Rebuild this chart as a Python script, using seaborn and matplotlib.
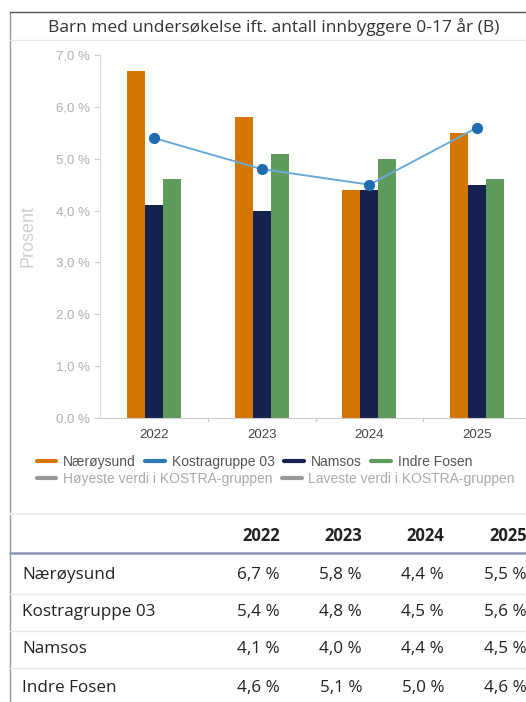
import seaborn as sns
import matplotlib.pyplot as plt
import pandas as pd
from matplotlib.lines import Line2D

years = ['2022', '2023', '2024', '2025']
naeroysund = [6.7, 5.8, 4.4, 5.5]
kostragruppe = [5.4, 4.8, 4.5, 5.6]
namsos = [4.1, 4.0, 4.4, 4.5]
indre_fosen = [4.6, 5.1, 5.0, 4.6]
bar_series = ['Nærøysund', 'Namsos', 'Indre Fosen']
yticks = [0, 1, 2, 3, 4, 5, 6, 7]

colors = {'Nærøysund': '#d47500', 'Kostragruppe 03': '#2a7ab8',
          'Namsos': '#15224f', 'Indre Fosen': '#5e9a5a'}

rows = []
for name, vals in zip(bar_series, [naeroysund, namsos, indre_fosen]):
    for y, v in zip(years, vals):
        rows.append({'year': y, 'verdi': v, 'serie': name})
df = pd.DataFrame(rows)
df_line = pd.DataFrame({'year': years, 'verdi': kostragruppe})

sns.set_style("white")
plt.rcParams['font.family'] = ['Liberation Sans', 'DejaVu Sans']

W, H = 526, 702
fig = plt.figure(figsize=(W / 100, H / 100), dpi=100)
ax = fig.add_axes([100 / W, (H - 418) / H, 431 / W, 363 / H])

sns.barplot(data=df, x='year', y='verdi', hue='serie', hue_order=bar_series,
            palette=[colors[s] for s in bar_series], width=0.5, gap=0,
            saturation=1, ax=ax, legend=False, linewidth=0)
sns.pointplot(data=df_line, x='year', y='verdi', color='#6aaad6',
              linewidth=1.4, markers='o', markersize=7, ax=ax,
              markerfacecolor='#1f6db0', markeredgecolor='#1f6db0')

ax.set_ylim(0, 7)
ax.set_xlim(-0.5, 3.5)
ax.set_yticks(yticks)
ax.set_yticklabels([f'{t},0 %' for t in yticks], color='#b0b0b0', fontsize=9.5)
ax.tick_params(axis='y', length=4, color='#cccccc', left=True, pad=3)
ax.tick_params(axis='x', length=0, colors='#444444', labelsize=9.5, pad=8)
for xb in [0.5, 1.5, 2.5]:
    ax.plot([xb, xb], [0, -0.06], color='#cccccc', lw=1, clip_on=False)
ax.set_xlabel('')
ax.set_ylabel('')
for s in ['top', 'right']:
    ax.spines[s].set_visible(False)
ax.spines['left'].set_color('#dddddd')
ax.spines['bottom'].set_color('#cccccc')
fig.text(28 / W, 1 - 236 / H, 'Prosent', rotation=90, color='#d0d0d0',
         fontsize=13, ha='center', va='center')

# frame and title
fig.add_artist(Line2D([10 / W, 10 / W], [0, 1 - 12 / H], color='#999999', lw=1))
fig.add_artist(Line2D([10 / W, 1], [1 - 12 / H, 1 - 12 / H], color='#555555', lw=1))
fig.add_artist(Line2D([10 / W, 1], [1 - 40 / H, 1 - 40 / H], color='#e6e6e6', lw=1))
fig.text(274 / W, 1 - 27 / H, 'Barn med undersøkelse ift. antall innbyggere 0-17 år (B)',
         ha='center', va='center', fontsize=12.5, color='#333333', family='Open Sans')

# legend
h1 = [Line2D([], [], color=colors[n], lw=3) for n in colors]
leg1 = fig.legend(h1, list(colors), loc='center left', ncol=4, frameon=False,
                  bbox_to_anchor=(24 / W, 1 - 462 / H), fontsize=10,
                  handlelength=1.4, handletextpad=0.5, columnspacing=0.7)
for t in leg1.get_texts():
    t.set_color('#555555')
gray_names = ['Høyeste verdi i KOSTRA-gruppen', 'Laveste verdi i KOSTRA-gruppen']
h2 = [Line2D([], [], color='#999999', lw=3) for _ in gray_names]
leg2 = fig.legend(h2, gray_names, loc='center left', ncol=2, frameon=False,
                  bbox_to_anchor=(24 / W, 1 - 479 / H), fontsize=10,
                  handlelength=1.4, handletextpad=0.5, columnspacing=0.7)
for t in leg2.get_texts():
    t.set_color('#aaaaaa')

# table
fig.add_artist(Line2D([10 / W, 1], [1 - 514 / H, 1 - 514 / H], color='#eeeeee', lw=1.5))
col_right = [280, 362, 444, 527]
for x, y in zip(col_right, years):
    fig.text(x / W, 1 - 536 / H, y, ha='right', va='center', fontsize=12,
             fontweight='bold', color='#222222', family='Open Sans')
fig.add_artist(Line2D([10 / W, 1], [1 - 553 / H, 1 - 553 / H], color='#8a96b8', lw=1.8))
table_rows = [('Nærøysund', naeroysund), ('Kostragruppe 03', kostragruppe),
              ('Namsos', namsos), ('Indre Fosen', indre_fosen)]
row_y = [575, 612, 649, 688]
for (name, vals), ry in zip(table_rows, row_y):
    fig.text(22 / W, 1 - ry / H, name, ha='left', va='center', fontsize=12.3,
             color='#222222', family='Open Sans')
    for x, v in zip(col_right, vals):
        fig.text(x / W, 1 - ry / H, f'{v:.1f} %'.replace('.', ','), ha='right',
                 va='center', fontsize=12.3, color='#222222', family='Open Sans')
for ly in [594, 631, 668]:
    fig.add_artist(Line2D([10 / W, 1], [1 - ly / H, 1 - ly / H], color='#e8e8e8', lw=1))

fig.savefig('out.png', dpi=100)
